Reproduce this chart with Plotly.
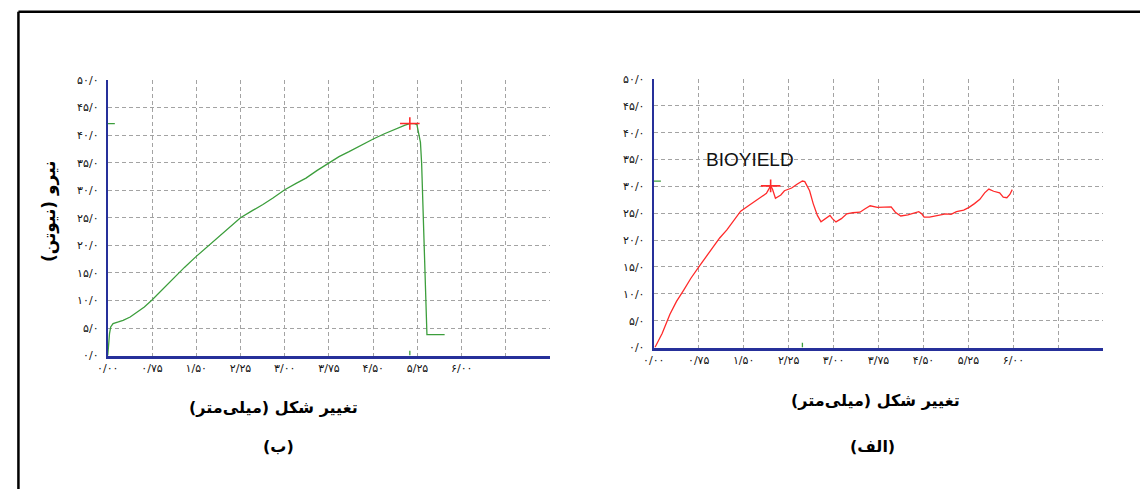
import numpy as np
import plotly.graph_objects as go

# ---------------- data ----------------
# chart (ب) : green curve
xb = [0.00, 0.01, 0.03, 0.05, 0.09, 0.18, 0.26, 0.38, 0.49, 0.62, 0.75, 0.90, 1.10, 1.30,
      1.50, 1.70, 1.83, 2.00, 2.25, 2.45, 2.63, 2.80, 3.00, 3.20, 3.36, 3.55, 3.75, 3.92,
      4.09, 4.30, 4.50, 4.68, 4.83, 4.95, 5.04, 5.12, 5.20, 5.24, 5.27, 5.30, 5.32, 5.35,
      5.38, 5.41, 5.55, 5.71]
yb = [0.0, 2.0, 4.0, 5.2, 5.8, 6.1, 6.4, 7.0, 7.8, 8.8, 10.1, 11.7, 14.0, 16.0,
      18.0, 19.9, 21.1, 22.7, 25.0, 26.3, 27.4, 28.6, 30.1, 31.3, 32.2, 33.6, 35.0, 36.1,
      37.0, 38.2, 39.3, 40.2, 40.9, 41.5, 41.8, 42.1, 42.1, 41.9, 40.5, 38.7, 34.9, 25.1,
      14.5, 3.8, 3.8, 3.8]

# chart (الف) : red curve
xa = [0.02, 0.14, 0.27, 0.38, 0.50, 0.62, 0.77, 0.92, 1.10, 1.22, 1.34, 1.45, 1.58, 1.76,
      1.88, 1.95, 1.98, 2.03, 2.12, 2.18, 2.30, 2.39, 2.48, 2.52, 2.60, 2.66, 2.73, 2.79,
      2.86, 2.94, 2.98, 3.04, 3.13, 3.22, 3.32, 3.44, 3.52, 3.61, 3.73, 3.85, 3.96, 4.03,
      4.12, 4.24, 4.33, 4.42, 4.47, 4.51, 4.60, 4.69, 4.78, 4.87, 4.96, 5.05, 5.17, 5.26,
      5.35, 5.44, 5.52, 5.59, 5.67, 5.77, 5.83, 5.89, 5.94, 5.98]
ya = [0.0, 2.6, 6.2, 8.6, 10.7, 12.9, 15.3, 17.7, 20.4, 21.9, 23.7, 25.4, 26.4, 27.7,
      28.7, 30.1, 29.5, 27.8, 28.4, 29.2, 29.7, 30.4, 31.0, 30.9, 29.2, 26.8, 24.6, 23.4,
      24.0, 24.6, 24.0, 23.4, 24.0, 24.9, 25.1, 25.2, 25.8, 26.4, 26.1, 26.1, 26.2, 25.2,
      24.5, 24.7, 25.0, 25.3, 24.9, 24.3, 24.3, 24.5, 24.7, 24.9, 24.8, 25.3, 25.6, 26.1,
      26.8, 27.6, 28.8, 29.5, 29.1, 28.8, 28.0, 27.9, 28.5, 29.4]
bioyield_x = 1.95

# axis ticks
x_tickvals = [0, 0.75, 1.5, 2.25, 3.0, 3.75, 4.5, 5.25, 6.0, 6.75, 7.5]
x_ticktext = ["۰/۰۰", "۰/۷۵", "۱/۵۰", "۲/۲۵", "۳/۰۰", "۳/۷۵", "۴/۵۰", "۵/۲۵", "۶/۰۰", "", ""]
y_tickvals = [0, 5, 10, 15, 20, 25, 30, 35, 40, 45, 50]
y_ticktext = ["۰/۰", "۵/۰", "۱۰/۰", "۱۵/۰", "۲۰/۰", "۲۵/۰", "۳۰/۰", "۳۵/۰", "۴۰/۰", "۴۵/۰", "۵۰/۰"]

RLM = "\u200f"
y_title = RLM + "نیرو (نیوتن)" + RLM
x_title = RLM + "تغییر شکل (میلی\u200cمتر)" + RLM
label_b = RLM + "(ب)" + RLM
label_a = RLM + "(الف)" + RLM

# ---------------- figure ----------------
W, H = 1140, 496
GREEN = "#3c9e3c"
RED = "#ff2a2a"
NAVY = "#26309a"
GRID = "#a3a3a3"
FONT = "DejaVu Sans"

fig = go.Figure()

def add_panel(fig, x, y, color, xa_name, ya_name):
    fig.add_trace(go.Scatter(x=x, y=y, mode="lines", line=dict(color=color, width=1.3),
                             xaxis=xa_name, yaxis=ya_name, showlegend=False, hoverinfo="skip"))
    i = int(np.argmax(y))
    # green max indicators on axes
    fig.add_trace(go.Scatter(x=[0, 0.12], y=[y[i], y[i]], mode="lines",
                             line=dict(color=GREEN, width=1.3), xaxis=xa_name, yaxis=ya_name,
                             showlegend=False, hoverinfo="skip"))
    fig.add_trace(go.Scatter(x=[x[i], x[i]], y=[0, 0.9], mode="lines",
                             line=dict(color=GREEN, width=1.3), xaxis=xa_name, yaxis=ya_name,
                             showlegend=False, hoverinfo="skip", cliponaxis=False))
    return i

ib = add_panel(fig, xb, yb, GREEN, "x", "y")
ia = add_panel(fig, xa, ya, RED, "x2", "y2")

# red cross markers
peak_b = (xb[ib], yb[ib])
bio_a = (bioyield_x, float(np.interp(bioyield_x, xa, ya)))
for (px, py), xn, yn in [(peak_b, "x", "y"), (bio_a, "x2", "y2")]:
    fig.add_trace(go.Scatter(x=[px], y=[py], mode="markers",
                             marker=dict(symbol="line-ew", size=14, line=dict(color=RED, width=1.6)),
                             xaxis=xn, yaxis=yn, showlegend=False, hoverinfo="skip"))
    fig.add_trace(go.Scatter(x=[px], y=[py], mode="markers",
                             marker=dict(symbol="line-ns", size=9, line=dict(color=RED, width=1.6)),
                             xaxis=xn, yaxis=yn, showlegend=False, hoverinfo="skip"))

def xaxis_style(domain, anchor):
    return dict(domain=domain, anchor=anchor, range=[0, 7.5], tickvals=x_tickvals, ticktext=x_ticktext,
                showgrid=True, gridcolor=GRID, griddash="4px,3px", gridwidth=1,
                zeroline=False, showline=True, linecolor=NAVY, linewidth=3, ticks="",
                tickfont=dict(family=FONT, size=11, color="#111"), fixedrange=True)

def yaxis_style(domain, anchor):
    return dict(domain=domain, anchor=anchor, range=[0, 50], tickvals=y_tickvals, ticktext=y_ticktext,
                showgrid=True, gridcolor=GRID, griddash="4px,3px", gridwidth=1,
                zeroline=False, showline=True, linecolor=NAVY, linewidth=2, ticks="",
                ticklabelstandoff=5,
                tickfont=dict(family=FONT, size=11, color="#111"), fixedrange=True)

fig.update_layout(
    width=W, height=H,
    margin=dict(l=0, r=0, t=0, b=0),
    paper_bgcolor="white", plot_bgcolor="white",
    xaxis=xaxis_style([97.7 / W, 544.5 / W], "y"),
    yaxis=yaxis_style([1 - 359 / H, 1 - 76 / H], "x"),
    xaxis2=xaxis_style([649 / W, 1103 / W], "y2"),
    yaxis2=yaxis_style([1 - 350.7 / H, 1 - 75 / H], "x2"),
    showlegend=False,
)

ann = []
ann.append(dict(text="BIOYIELD", x=1.60, y=35.1, xref="x2", yref="y2", showarrow=False,
                xanchor="center", yanchor="middle",
                font=dict(family="Liberation Sans", size=19, color="#111")))
ann.append(dict(text="<b>" + y_title + "</b>", x=39 / W, y=1 - 211 / H, xref="paper", yref="paper",
                xanchor="center", yanchor="middle",
                showarrow=False, textangle=-90, font=dict(family=FONT, size=17, color="#000")))
for cx, cy, t in [(265, 412, x_title), (270, 452, label_b), (873, 405, x_title), (870, 452, label_a)]:
    ann.append(dict(text="<b>" + t + "</b>", x=cx / W, y=1 - cy / H, xref="paper", yref="paper",
                    xanchor="center", yanchor="middle",
                    showarrow=False, font=dict(family=FONT, size=16, color="#000")))
fig.update_layout(annotations=ann)

# outer frame (left and top edges)
fig.add_shape(type="line", xref="paper", yref="paper", x0=7.5 / W, x1=7.5 / W, y0=0, y1=1 - 6 / H,
              line=dict(color="black", width=2.5))
fig.add_shape(type="line", xref="paper", yref="paper", x0=7.5 / W, x1=1, y0=1 - 6 / H, y1=1 - 6 / H,
              line=dict(color="black", width=2.5))

fig.write_html("out.html", config={"displayModeBar": False},
               post_script="document.body.style.margin='0px';document.body.style.overflow='hidden';")
